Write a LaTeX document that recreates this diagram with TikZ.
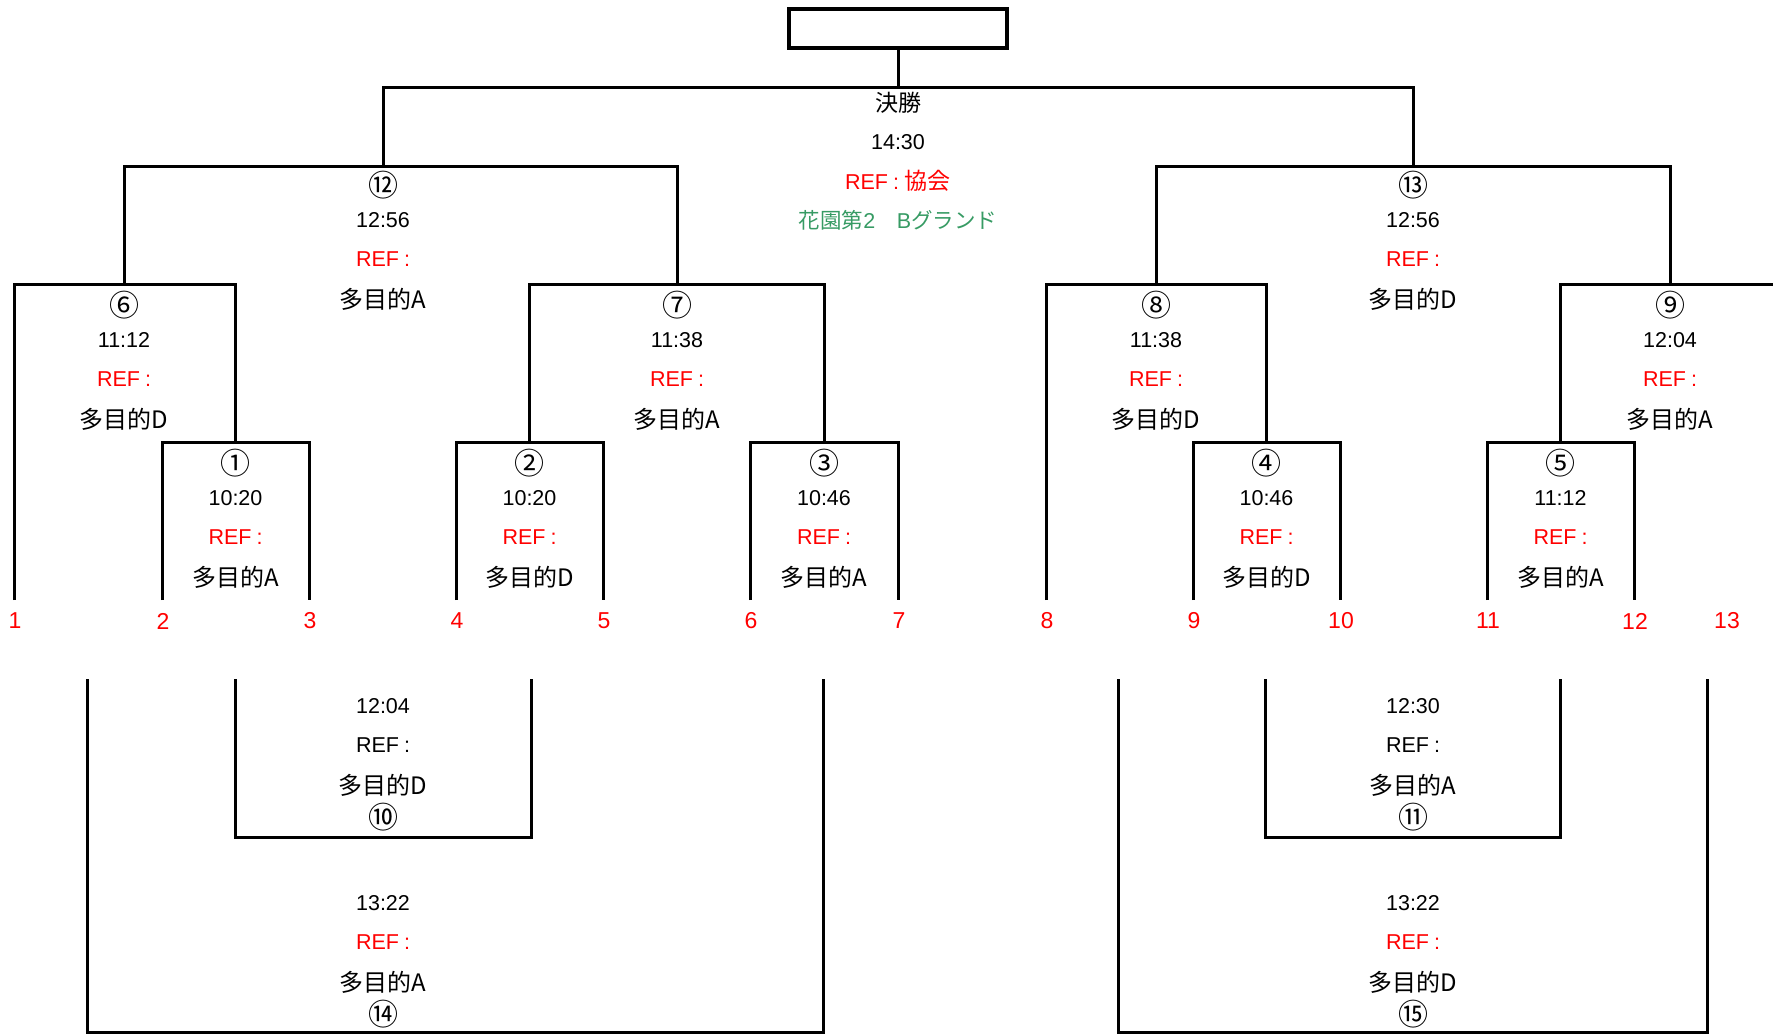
\documentclass[tikz,border=0pt]{standalone}
\usepackage{fontspec}
\setmainfont{Liberation Sans}
\newfontfamily\jpfont{Noto Sans CJK JP}
\definecolor{refred}{RGB}{255,0,0}
\definecolor{fieldgreen}{RGB}{55,155,100}
\newcommand{\jp}[1]{{\jpfont\fontsize{23}{28}\selectfont #1}}
\newcommand{\jpl}[1]{{\jpfont\fontsize{24}{28}\selectfont #1}}
\newcommand{\jps}[1]{{\jpfont\fontsize{21.5}{26}\selectfont #1}}
\tikzset{
  br/.style={line width=3pt, line join=miter, draw=black},
  txt/.style={inner sep=0pt, font=\fontsize{21.5}{26}\selectfont},
  reftxt/.style={txt, text=refred},
  circnum/.style={inner sep=0pt, font=\jpfont\fontsize{30}{34}\selectfont},
  team/.style={inner sep=0pt, text=refred, font=\fontsize{23}{27}\selectfont},
  champbox/.style={draw, line width=4.5pt, minimum width=218pt, minimum height=39pt, inner sep=0pt}
}
\newcommand{\mtch}[6]{%
  \node[circnum] (#1c) at (#2,#3) {#4};
  \node[txt] (#1t) at (#2,#3+35) {#5};
  \node[reftxt] (#1r) at (#2,#3+74) {REF\hspace{5pt}:};
  \node[txt] (#1p) at (#2,#3+114) {\jpl{多目的#6}};
}
\newcommand{\consmatch}[7]{%
  \node[txt] (#1t) at (#2,#3) {#5};
  \node[txt, text=#6] (#1r) at (#2,#3+39) {REF\hspace{5pt}:};
  \node[txt] (#1p) at (#2,#3+79) {\jpl{多目的#7}};
  \node[circnum] (#1c) at (#2,#3+111) {#4};
}
\begin{document}
\begin{tikzpicture}[x=1pt,y=-1pt]
\useasboundingbox (0,0) rectangle (1773,1036);

% champion box
\node[champbox] (champ) at (898,28.5) {};

% feet
\coordinate (t1) at (14,600);
\coordinate (t2) at (162,600);
\coordinate (t3) at (309,600);
\coordinate (t4) at (456,600);
\coordinate (t5) at (603,600);
\coordinate (t6) at (750,600);
\coordinate (t7) at (898,600);
\coordinate (t8) at (1046,600);
\coordinate (t9) at (1193,600);
\coordinate (t10) at (1340,600);
\coordinate (t11) at (1487,600);
\coordinate (t12) at (1634,600);

% match tops
\coordinate (m1) at (235.5,442);
\coordinate (m2) at (529.5,442);
\coordinate (m3) at (824,442);
\coordinate (m4) at (1266.5,442);
\coordinate (m5) at (1560.5,442);
\coordinate (m6) at (124,284);
\coordinate (m7) at (677,284);
\coordinate (m8) at (1156,284);
\coordinate (m9) at (1670,284);
\coordinate (e9) at (1773,284);
\coordinate (m12) at (383,166);
\coordinate (m13) at (1413,166);
\coordinate (mf) at (898,87);

% bracket lines
\draw[br] (t2) |- (m1) -| (t3);
\draw[br] (t4) |- (m2) -| (t5);
\draw[br] (t6) |- (m3) -| (t7);
\draw[br] (t9) |- (m4) -| (t10);
\draw[br] (t11) |- (m5) -| (t12);
\draw[br] (t1) |- (m6) -| (m1);
\draw[br] (m2) |- (m7) -| (m3);
\draw[br] (t8) |- (m8) -| (m4);
\draw[br] (m5) |- (m9) -- (e9);
\draw[br] (m6) |- (m12) -| (m7);
\draw[br] (m8) |- (m13) -| (m9);
\draw[br] (m12) |- (mf) -| (m13);
\draw[br] (mf) -- (champ.south);

% consolation brackets
\coordinate (b1) at (87,679);
\coordinate (b2) at (235,679);
\coordinate (b3) at (531,679);
\coordinate (b4) at (823,679);
\coordinate (bi) at (383,837);
\coordinate (bo) at (455,1032);
\draw[br] (b2) |- (bi) -| (b3);
\draw[br] (b1) |- (bo) -| (b4);

\coordinate (c1) at (1118,679);
\coordinate (c2) at (1265,679);
\coordinate (c3) at (1560,679);
\coordinate (c4) at (1707,679);
\coordinate (ci) at (1413,837);
\coordinate (co) at (1413,1032);
\draw[br] (c2) |- (ci) -| (c3);
\draw[br] (c1) |- (co) -| (c4);

% final texts
\node[txt] (fin1) at (898,103) {\jp{決勝}};
\node[txt] (fin2) at (898,142) {14:30};
\node[reftxt] (fin3) at (898,181) {REF\hspace{5pt}:\hspace{6pt}\jp{協会}};
\node[txt, text=fieldgreen] (fin4) at (898,220) {\jps{花園第}2\jps{　}B\jps{グランド}};

% match texts
\mtch{s12}{383}{185}{⑫}{12:56}{A}
\mtch{s13}{1413}{185}{⑬}{12:56}{D}
\mtch{q6}{124}{305}{⑥}{11:12}{D}
\mtch{q7}{677}{305}{⑦}{11:38}{A}
\mtch{q8}{1156}{305}{⑧}{11:38}{D}
\mtch{q9}{1670}{305}{⑨}{12:04}{A}
\mtch{r1}{235.5}{463}{①}{10:20}{A}
\mtch{r2}{529.5}{463}{②}{10:20}{D}
\mtch{r3}{824}{463}{③}{10:46}{A}
\mtch{r4}{1266.5}{463}{④}{10:46}{D}
\mtch{r5}{1560.5}{463}{⑤}{11:12}{A}

% consolation texts
\consmatch{c10}{383}{706}{⑩}{12:04}{black}{D}
\consmatch{c14}{383}{903}{⑭}{13:22}{refred}{A}
\consmatch{c11}{1413}{706}{⑪}{12:30}{black}{A}
\consmatch{c15}{1413}{903}{⑮}{13:22}{refred}{D}

% team numbers
\node[team] (n1) at (15,621) {1};
\node[team] (n2) at (163,621) {2};
\node[team] (n3) at (310,621) {3};
\node[team] (n4) at (457,621) {4};
\node[team] (n5) at (604,621) {5};
\node[team] (n6) at (751,621) {6};
\node[team] (n7) at (899,621) {7};
\node[team] (n8) at (1047,621) {8};
\node[team] (n9) at (1194,621) {9};
\node[team] (n10) at (1341,621) {10};
\node[team] (n11) at (1488,621) {11};
\node[team] (n12) at (1635,621) {12};
\node[team] (n13) at (1727,621) {13};
\end{tikzpicture}
\end{document}
